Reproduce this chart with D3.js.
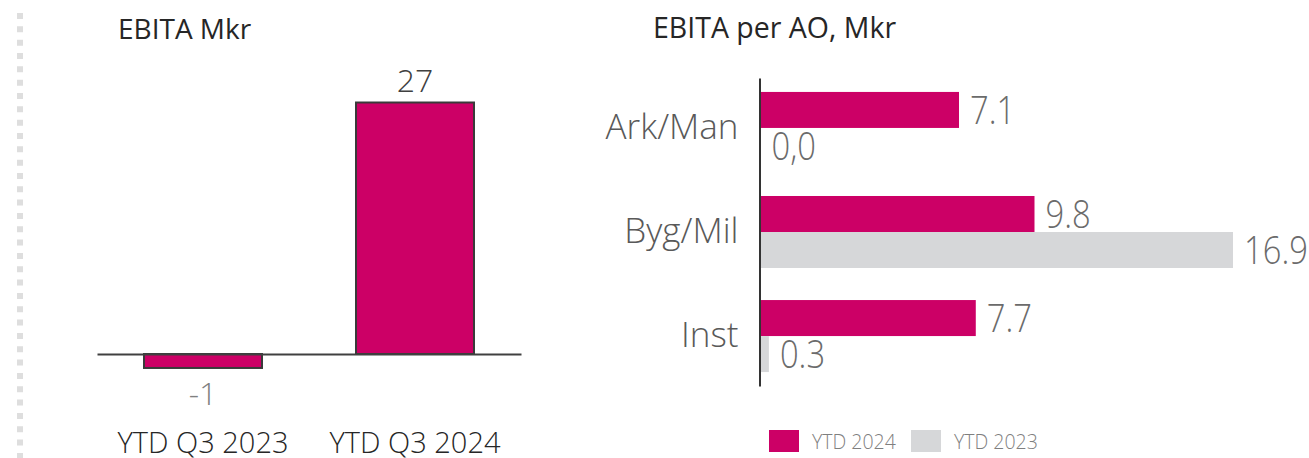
<!DOCTYPE html>
<html>
<head>
<meta charset="utf-8">
<script src="https://cdn.jsdelivr.net/npm/d3@7"></script>
<style>
  html, body { margin: 0; padding: 0; background: #ffffff; }
  svg { display: block; font-family: "Open Sans", "Noto Sans", sans-serif; }
</style>
</head>
<body>
<svg id="chart" width="1309" height="458"></svg>
<script>
// ---- Data ----
const leftCategories = ["YTD Q3 2023", "YTD Q3 2024"];
const leftValues = [-1.5, 27];
const leftLabels = ["-1", "27"];

const rightCategories = ["Ark/Man", "Byg/Mil", "Inst"];
const seriesNames = ["YTD 2024", "YTD 2023"];
const ytd2024Values = [7.1, 9.8, 7.7];
const ytd2023Values = [0.0, 16.9, 0.3];
const ytd2024Labels = ["7.1", "9.8", "7.7"];
const ytd2023Labels = ["0,0", "16.9", "0.3"];

const leftTitle = "EBITA Mkr";
const rightTitle = "EBITA per AO, Mkr";

// ---- Styles ----
const PINK = "#CC0066";
const GREY = "#D6D7D9";

const svg = d3.select("#chart");

// Decorative dotted left border
svg.append("line")
  .attr("x1", 20).attr("x2", 20).attr("y1", 13).attr("y2", 458)
  .attr("stroke", "#dedede").attr("stroke-width", 6)
  .attr("stroke-dasharray", "6 7.33");

// ---------------- Left chart ----------------
const xL = d3.scaleBand().domain(leftCategories).range([97, 521])
  .paddingInner(0.434).paddingOuter(0.217);
const yL = d3.scaleLinear().domain([0, 27]).range([354, 102.5]);

svg.append("text").attr("x", 118).attr("y", 39)
  .attr("font-size", 28).attr("fill", "#262626").text(leftTitle);

const gL = svg.append("g");
gL.selectAll("rect").data(leftValues).join("rect")
  .attr("x", (d, i) => xL(leftCategories[i]) + 1)
  .attr("width", xL.bandwidth() - 2)
  .attr("y", d => yL(Math.max(0, d)))
  .attr("height", d => Math.abs(yL(d) - yL(0)))
  .attr("fill", PINK).attr("stroke", "#3a3a3a").attr("stroke-width", 2);

const axL = svg.append("g").attr("transform", `translate(0,${yL(0)})`)
  .call(d3.axisBottom(xL).tickSize(0).tickPadding(78));
axL.select(".domain").attr("stroke", "#404040").attr("stroke-width", 2);
axL.selectAll("text").attr("font-size", 29).attr("font-family", "Open Sans")
  .attr("font-weight", 300).attr("fill", "#262626");

gL.selectAll("text.val").data(leftValues).join("text").attr("class", "val")
  .attr("x", (d, i) => xL(leftCategories[i]) + xL.bandwidth() / 2)
  .attr("y", d => d >= 0 ? yL(d) - 11 : yL(d) + 37)
  .attr("text-anchor", "middle").attr("font-size", 32).attr("font-weight", 300)
  .attr("fill", d => d >= 0 ? "#404040" : "#808080")
  .text((d, i) => leftLabels[i]);

// ---------------- Right chart ----------------
svg.append("text").attr("x", 653).attr("y", 38)
  .attr("font-size", 28.5).attr("fill", "#262626").text(rightTitle);

const y0 = d3.scaleBand().domain(rightCategories).range([78, 386])
  .paddingInner(0.308).paddingOuter(0.134);
const y1 = d3.scaleBand().domain(seriesNames).range([0, y0.bandwidth()]);
const xR = d3.scaleLinear().domain([0, 16.9]).range([760.5, 1233]);
const colorR = d3.scaleOrdinal().domain(seriesNames).range([PINK, GREY]);

const rows = rightCategories.map((c, i) => ({
  cat: c,
  bars: [
    { s: seriesNames[0], v: ytd2024Values[i], label: ytd2024Labels[i] },
    { s: seriesNames[1], v: ytd2023Values[i], label: ytd2023Labels[i] }
  ]
}));

const groups = svg.append("g").selectAll("g").data(rows).join("g")
  .attr("transform", d => `translate(0,${y0(d.cat)})`);

groups.selectAll("rect").data(d => d.bars).join("rect")
  .attr("x", xR(0))
  .attr("y", d => y1(d.s))
  .attr("width", d => xR(d.v) - xR(0))
  .attr("height", y1.bandwidth())
  .attr("fill", d => colorR(d.s));

groups.selectAll("text").data(d => d.bars).join("text")
  .attr("transform", d => `translate(${xR(d.v) + 11},${y1(d.s) + y1.bandwidth() / 2 + 14}) scale(0.84,1)`)
  .attr("font-size", 39).attr("font-weight", 300).attr("fill", "#6b6b6b")
  .text(d => d.label);

const axR = svg.append("g").attr("transform", "translate(759.5,0)")
  .call(d3.axisLeft(y0).tickSize(0).tickPadding(21));
axR.select(".domain").attr("stroke", "#333333").attr("stroke-width", 2);
axR.selectAll("text").attr("font-size", 35).attr("font-family", "Open Sans")
  .attr("font-weight", 300).attr("fill", "#595959");

// Legend
const legend = svg.append("g").selectAll("g").data(seriesNames).join("g")
  .attr("transform", (d, i) => `translate(${769 + i * 142},430)`);
legend.append("rect").attr("width", 30).attr("height", 22).attr("fill", d => colorR(d));
legend.append("text").attr("x", 43).attr("y", 19)
  .attr("font-size", 19.5).attr("font-weight", 300).attr("fill", "#7f7f7f")
  .text(d => d);
</script>
</body>
</html>
